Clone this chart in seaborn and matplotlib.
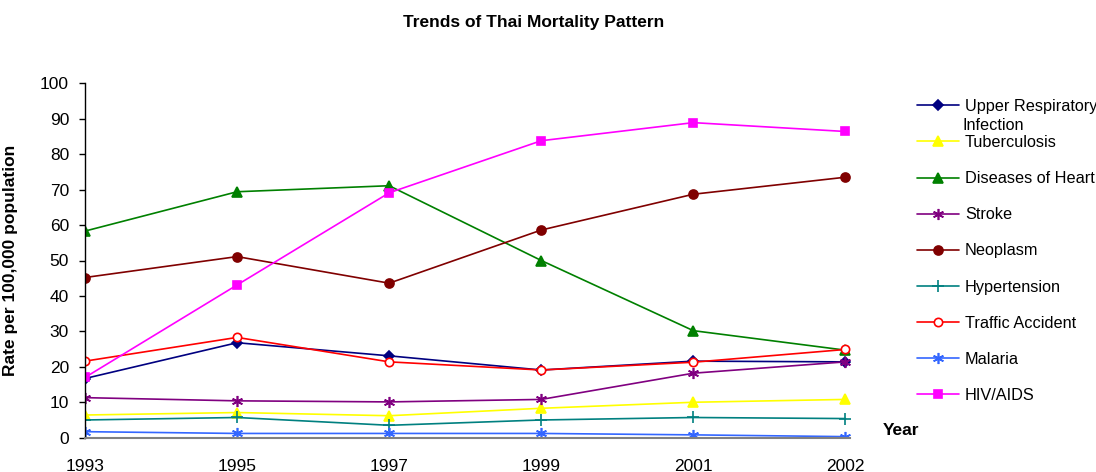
import pandas as pd
import matplotlib.pyplot as plt
import seaborn as sns

# Data (rate per 100,000 population)
years = ['1993', '1995', '1997', '1999', '2001', '2002']
upper_respiratory = [16.7, 26.8, 23.1, 19.1, 21.6, 21.4]
tuberculosis = [6.4, 7.1, 6.2, 8.3, 10.0, 10.8]
diseases_of_heart = [58.3, 69.4, 71.1, 50.0, 30.2, 24.7]
stroke = [11.3, 10.4, 10.1, 10.8, 18.2, 21.4]
neoplasm = [45.2, 51.1, 43.6, 58.6, 68.7, 73.5]
hypertension = [5.0, 5.7, 3.5, 5.0, 5.7, 5.4]
traffic_accident = [21.6, 28.3, 21.4, 19.1, 21.3, 24.9]
malaria = [1.7, 1.2, 1.2, 1.2, 0.8, 0.3]
hiv_aids = [17.0, 43.1, 69.1, 83.8, 88.9, 86.4]

series = [
    ('Upper Respiratory', upper_respiratory, '#000080', 'D', 5, True),
    ('Tuberculosis', tuberculosis, '#FFFF00', '^', 7, True),
    ('Diseases of Heart', diseases_of_heart, '#008000', '^', 7, True),
    ('Stroke', stroke, '#800080', (6, 2, 0), 8, True),
    ('Neoplasm', neoplasm, '#800000', 'o', 6.5, True),
    ('Hypertension', hypertension, '#008080', '+', 8, True),
    ('Traffic Accident', traffic_accident, '#FF0000', 'o', 6, False),
    ('Malaria', malaria, '#3366FF', (6, 2, 0), 8, True),
    ('HIV/AIDS', hiv_aids, '#FF00FF', 's', 6, True),
]

sns.set_style('white')
plt.rcParams['font.family'] = ['Liberation Sans', 'DejaVu Sans']
plt.rcParams['text.color'] = 'black'
plt.rcParams['axes.labelcolor'] = 'black'
plt.rcParams['xtick.color'] = 'black'
plt.rcParams['ytick.color'] = 'black'

fig = plt.figure(figsize=(10.96, 4.72), dpi=100)
ax = fig.add_axes([85 / 1096, 1 - 437.7 / 472, 765 / 1096, 354.4 / 472])

for name, values, color, marker, size, filled in series:
    df = pd.DataFrame({'Year': years, 'Rate': values})
    sns.lineplot(data=df, x='Year', y='Rate', ax=ax, color=color, marker=marker,
                 markersize=size, linewidth=1.2, label=name,
                 markerfacecolor=color if filled else 'white',
                 markeredgecolor=color, markeredgewidth=1.2)

ax.set_ylim(0, 100)
ax.set_xlim(0, 5.03)
ax.set_yticks(range(0, 101, 10))
ax.tick_params(axis='y', which='both', left=True, length=4.5, width=1, color='black',
               labelsize=12.5, pad=7)
ax.tick_params(axis='x', length=0, labelsize=12.5, pad=15)

for side in ['top', 'right']:
    ax.spines[side].set_visible(False)
ax.spines['left'].set_color('black')
ax.spines['left'].set_linewidth(1.0)
ax.spines['bottom'].set_color('#808080')
ax.spines['bottom'].set_linewidth(1.5)
ax.grid(False)

ax.set_xlabel('')
ax.set_ylabel('Rate per 100,000 population', fontsize=12.5, fontweight='bold')
ax.yaxis.set_label_coords(-0.088, 0.5)
ax.text(1.043, 0.02, 'Year', transform=ax.transAxes, fontsize=12.5,
        fontweight='bold', ha='left', va='center')

fig.text(534 / 1096, 1 - 22 / 472, 'Trends of Thai Mortality Pattern',
         fontsize=12.5, fontweight='bold', ha='center', va='center')

ax.legend(loc='upper left', bbox_to_anchor=(917 / 1096, 1 - 99 / 472),
          bbox_transform=fig.transFigure, frameon=False, fontsize=11.7,
          borderpad=0, borderaxespad=0, labelspacing=1.3, handlelength=2.6,
          handletextpad=0.35)
fig.text(963 / 1096, 1 - 125 / 472, 'Infection', fontsize=11.7, ha='left', va='center')

plt.savefig('out.png', dpi=100)
plt.close()
